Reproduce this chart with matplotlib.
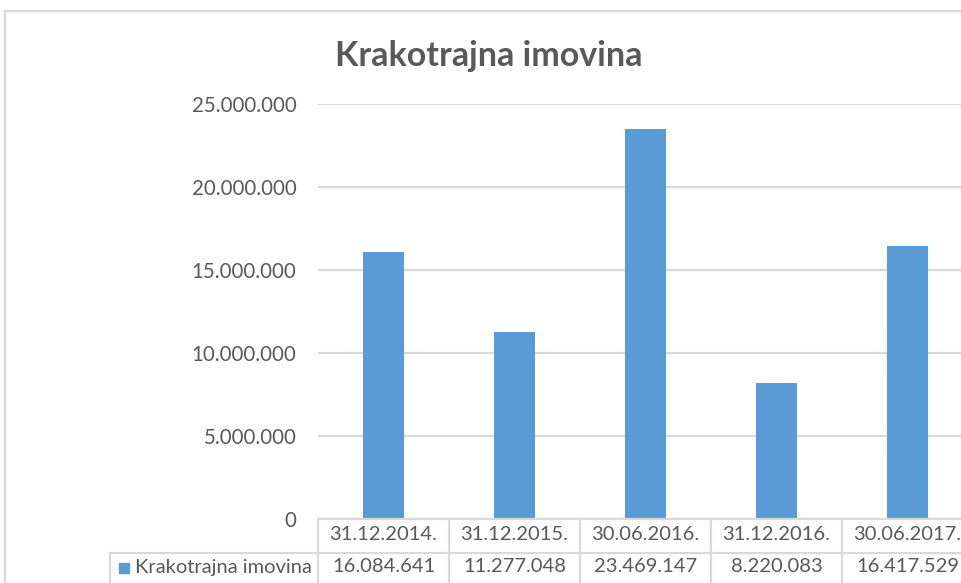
import matplotlib
matplotlib.use("Agg")
import matplotlib.pyplot as plt
from matplotlib.lines import Line2D
from matplotlib.patches import Rectangle
from matplotlib.transforms import blended_transform_factory
from matplotlib.ticker import FuncFormatter

plt.rcParams['font.family'] = ['Lato', 'DejaVu Sans']

title = "Krakotrajna imovina"
series_name = "Krakotrajna imovina"
categories = ["31.12.2014.", "31.12.2015.", "30.06.2016.", "31.12.2016.", "30.06.2017."]
values = [16084641, 11277048, 23469147, 8220083, 16417529]
yticks = [0, 5000000, 10000000, 15000000, 20000000, 25000000]

TXT = "#595959"
GRID = "#d9d9d9"
BAR = "#5B9BD5"

W, H = 962, 583
fig = plt.figure(figsize=(W / 100, H / 100), dpi=100)
fig.patch.set_facecolor("white")

def fx(px):
    return px / W

def fy(py):
    return 1 - py / H

ax_left, ax_right, ax_top, ax_bot = 318, 973, 104, 519
ax = fig.add_axes([fx(ax_left), fy(ax_bot), (ax_right - ax_left) / W, (ax_bot - ax_top) / H])
ax.set_facecolor("none")

x = list(range(len(categories)))
ax.bar(x, values, width=0.313, color=BAR, zorder=3)
ax.set_xlim(-0.5, len(categories) - 0.5)
ax.set_ylim(0, 25000000)
ax.set_yticks(yticks)
ax.yaxis.set_major_formatter(FuncFormatter(lambda v, p: f"{int(v):,}".replace(",", ".")))
ax.grid(axis="y", color=GRID, linewidth=1.6, zorder=0)
ax.set_xticks([])
for s in ax.spines.values():
    s.set_visible(False)
ax.tick_params(axis="y", length=0, pad=15.5, labelsize=14.8, labelcolor=TXT)

# title
fig.text(fx(489), fy(56), title, ha="center", va="center", fontsize=24.5,
         fontweight="bold", color=TXT)

# data table
tr = blended_transform_factory(ax.transData, ax.transAxes)
hpx = ax_bot - ax_top
row2_bot = -(600 - 519) / hpx
lw = 1.6
ax.add_line(Line2D([-0.5, len(categories) - 0.5], [0, 0], transform=tr, color=GRID,
                   lw=lw, clip_on=False, zorder=4))
fig.add_artist(Line2D([fx(110), fx(ax_right)], [fy(553), fy(553)], color=GRID, lw=lw))
fig.add_artist(Line2D([fx(110), fx(110)], [fy(553), fy(600)], color=GRID, lw=lw))
for i in range(len(categories) + 1):
    ax.add_line(Line2D([i - 0.5, i - 0.5], [0, row2_bot], transform=tr, color=GRID,
                       lw=lw, clip_on=False))
for i, (c, v) in enumerate(zip(categories, values)):
    ax.text(i, -(535 - 519) / hpx, c, transform=tr, ha="center", va="center",
            fontsize=14.5, color=TXT, clip_on=False)
    ax.text(i, -(567 - 519) / hpx, f"{v:,}".replace(",", "."), transform=tr,
            ha="center", va="center", fontsize=14.5, color=TXT, clip_on=False)

# legend key in table
fig.add_artist(Rectangle((fx(119), fy(573)), 10 / W, 10 / H, color=BAR))
fig.text(fx(135), fy(567), series_name, ha="left", va="center", fontsize=14.5, color=TXT)

# chart frame
fig.add_artist(Line2D([fx(5), fx(5)], [fy(11), 0], color=GRID, lw=1.6))
fig.add_artist(Line2D([fx(5), 1], [fy(11), fy(11)], color=GRID, lw=1.6))

fig.savefig("out.png", dpi=100, facecolor="white")
